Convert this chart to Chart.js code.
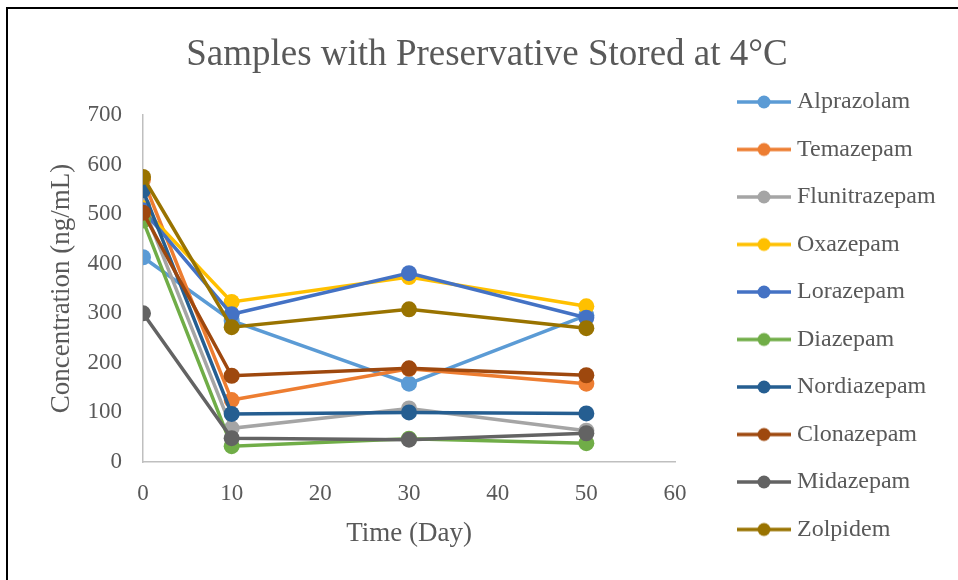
<!DOCTYPE html>
<html lang="en">
<head>
<meta charset="UTF-8">
<title>Samples with Preservative Stored at 4°C</title>
<script src="https://cdn.jsdelivr.net/npm/chart.js"></script>
<style>
    body { margin: 0; background: #fff; }
    #wrap { position: relative; width: 958px; height: 580px; }
    /* black frame, top and left edges only */
    #frame { position: absolute; left: 6px; top: 7px; right: 0; bottom: 0;
             border-top: 2px solid #000; border-left: 2px solid #000; pointer-events: none; }
</style>
</head>
<body>
<div id="wrap">
    <canvas id="chart" width="958" height="580"></canvas>
    <div id="frame"></div>
</div>
<script>
    // storage days
    const days = [0, 10, 30, 50];
    // concentration (ng/mL) per drug
    const alprazolam    = [413, 285, 158, 296];
    const temazepam     = [570, 125, 188, 158];
    const flunitrazepam = [517, 68, 108, 63];
    const oxazepam      = [512, 323, 373, 314];
    const lorazepam     = [508, 298, 381, 291];
    const diazepam      = [487, 32, 47, 38];
    const nordiazepam   = [548, 97, 100, 98];
    const clonazepam    = [503, 174, 189, 175];
    const midazepam     = [300, 48, 45, 58];
    const zolpidem      = [575, 272, 308, 270];

    const names = ['Alprazolam', 'Temazepam', 'Flunitrazepam', 'Oxazepam', 'Lorazepam',
                   'Diazepam', 'Nordiazepam', 'Clonazepam', 'Midazepam', 'Zolpidem'];
    const series = [alprazolam, temazepam, flunitrazepam, oxazepam, lorazepam,
                    diazepam, nordiazepam, clonazepam, midazepam, zolpidem];
    const colors = ['#5B9BD5', '#ED7D31', '#A5A5A5', '#FFC000', '#4472C4',
                    '#70AD47', '#255E91', '#9E480E', '#636363', '#997300'];

    // little line-with-dot image for the legend
    function legendMark(color) {
        const c = document.createElement('canvas');
        c.width = 54; c.height = 16;
        const g = c.getContext('2d');
        g.strokeStyle = color; g.lineWidth = 3.5;
        g.beginPath(); g.moveTo(0, 8); g.lineTo(54, 8); g.stroke();
        g.fillStyle = color;
        g.beginPath(); g.arc(27, 8, 6.5, 0, Math.PI * 2); g.fill();
        return c;
    }

    const datasets = names.map((n, i) => ({
        label: n,
        data: days.map((d, j) => ({ x: d, y: series[i][j] })),
        borderColor: colors[i],
        backgroundColor: colors[i],
        borderWidth: 3.5,
        pointRadius: 8,
        pointHoverRadius: 8,
        pointBorderWidth: 0,
        pointStyle: 'circle',
        legendMark: legendMark(colors[i]),
        order: names.length - i   // later series on top
    }));

    // legend: fixed width on the right, placed a bit higher than the plot
    const LEGEND_W = 279;
    const legendBox = {
        id: 'legendBox',
        afterInit(chart) {
            const lg = chart.legend;
            const fit = lg.fit.bind(lg);
            lg.fit = function () { fit(); this.width = LEGEND_W; };
        },
        afterLayout(chart) {
            const lg = chart.legend;
            lg.left = 719.5; lg.right = lg.left + LEGEND_W;
            lg.top = 66.5; lg.bottom = 580;
        }
    };

    Chart.defaults.font.family = '"Liberation Serif", "Times New Roman", serif';
    Chart.defaults.color = '#595959';

    new Chart(document.getElementById('chart'), {
        type: 'line',
        data: { datasets: datasets },
        plugins: [legendBox],
        options: {
            responsive: false,
            animation: false,
            layout: { padding: { left: 20, right: 4, top: 0, bottom: 26 } },
            plugins: {
                title: {
                    display: true,
                    text: 'Samples with Preservative Stored at 4°C',
                    font: { size: 37, weight: 'normal' },
                    color: '#595959',
                    padding: { top: 33, bottom: 37.6 }
                },
                legend: {
                    position: 'right',
                    align: 'start',
                    labels: {
                        usePointStyle: true,
                        pointStyleWidth: 42,
                        padding: 23.5,
                        font: { size: 24 },
                        color: '#595959',
                        generateLabels: (chart) => chart.data.datasets.map((ds, i) => ({
                            text: ds.label,
                            datasetIndex: i,
                            pointStyle: ds.legendMark,
                            fillStyle: ds.borderColor,
                            strokeStyle: ds.borderColor,
                            lineWidth: 0,
                            fontColor: '#595959',
                            hidden: false
                        }))
                    }
                },
                tooltip: { enabled: false }
            },
            scales: {
                x: {
                    type: 'linear',
                    min: 0, max: 60,
                    ticks: { stepSize: 10, padding: 10, font: { size: 23 } },
                    grid: { display: false },
                    border: { display: true, color: '#BFBFBF', width: 1.5 },
                    title: { display: true, text: 'Time (Day)', font: { size: 27 }, padding: { top: 0, bottom: 4 } }
                },
                y: {
                    min: 0, max: 700,
                    afterFit: (scale) => { scale.width = 123; },
                    ticks: { stepSize: 100, padding: 13, font: { size: 23 } },
                    grid: { display: false },
                    border: { display: true, color: '#BFBFBF', width: 1.5 },
                    title: { display: true, text: 'Concentration (ng/mL)', font: { size: 27 }, padding: { top: 26, bottom: 9.5 } }
                }
            }
        }
    });
</script>
</body>
</html>
